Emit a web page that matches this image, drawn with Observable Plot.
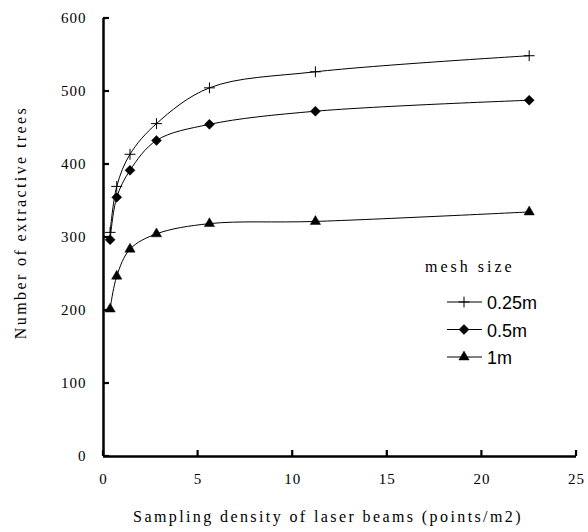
<!DOCTYPE html>
<html>
<head>
<meta charset="utf-8">
<script src="https://cdn.jsdelivr.net/npm/d3@7"></script>
<script src="https://cdn.jsdelivr.net/npm/@observablehq/plot@0.6"></script>
<style>
  html, body { margin: 0; padding: 0; background: #fff; }
  #wrap { position: relative; width: 588px; height: 532px; }
  #legend { position: absolute; left: 420px; top: 250px; }
  .serif, .serif text { font-family: "Liberation Serif", "Times New Roman", "DejaVu Serif", serif; }
  .sans { font-family: "Liberation Sans", Arial, sans-serif; }
</style>
</head>
<body>
<div id="wrap"></div>
<script>
// ---- data ----
const densities = [0.35, 0.7, 1.4, 2.8, 5.6, 11.2, 22.5];
const mesh025 = [307, 370, 414, 456, 505, 527, 549];
const mesh05  = [297, 355, 392, 433, 455, 473, 488];
const mesh1   = [202, 247, 284, 305, 319, 322, 335];
const seriesNames = ["0.25m", "0.5m", "1m"];
const xTicks = [0, 5, 10, 15, 20, 25];
const yTicks = [0, 100, 200, 300, 400, 500, 600];
const xTitle = "Sampling density of laser beams (points/m2)";
const yTitle = "Number of extractive trees";
const legendTitle = "mesh size";

const seriesValues = [mesh025, mesh05, mesh1];
const symbols = ["plus", "diamond2", "triangle"];
const symbolR = [3.6, 4.5, 3.8];
const rows = [];
seriesNames.forEach((s, i) => densities.forEach((d, j) => rows.push({series: s, x: d, y: seriesValues[i][j]})));

const W = 588, H = 532, mL = 103, mR = 12, mT = 18, mB = 76;
const tickLen = 6;

const marks = [];
seriesNames.forEach((s, i) => {
  const data = rows.filter(r => r.series === s);
  marks.push(Plot.line(data, {x: "x", y: "y", curve: "catmull-rom", stroke: "#000", strokeWidth: 1}));
  marks.push(Plot.dot(data, {x: "x", y: "y", symbol: () => symbols[i], r: symbolR[i],
    fill: symbols[i] === "plus" ? "none" : "#000", stroke: "#000", strokeWidth: symbols[i] === "plus" ? 1 : 0.5}));
});

const chart = Plot.plot({
  width: W,
  height: H,
  marginLeft: mL,
  marginRight: mR,
  marginTop: mT,
  marginBottom: mB,
  className: "serif",
  style: {background: "#fff", color: "#000"},
  x: {domain: [0, 25]},
  y: {domain: [0, 600]},
  marks: [
    Plot.axisX(xTicks, {tickSize: 0, tickPadding: 17, fontSize: 15, label: null, tickFormat: d => String(d)}),
    Plot.axisY(yTicks, {tickSize: 0, tickPadding: 17, fontSize: 15, label: null, tickFormat: d => String(d)}),
    Plot.ruleX([0], {stroke: "#000", strokeWidth: 2.5}),
    Plot.ruleY([0], {stroke: "#000", strokeWidth: 2.5}),
    ...marks,
    Plot.text([xTitle], {text: d => d, frameAnchor: "bottom", dx: -12, dy: 65, fontSize: 16, fill: "#000"}),
    Plot.text([yTitle], {text: d => d, frameAnchor: "left", textAnchor: "middle", rotate: -90, dx: -83, dy: -15, fontSize: 16, fill: "#000"})
  ]
});
d3.select(chart).selectAll("[aria-label='x-axis tick label'] text, [aria-label='y-axis tick label'] text").style("letter-spacing", "1px");
d3.select(chart).selectAll("[aria-label='text'] text").style("letter-spacing", "2.4px");

// inward tick marks, positioned through the chart's own scales
const sx = chart.scale("x"), sy = chart.scale("y");
const x0 = sx.apply(0), y0 = sy.apply(0);
const tg = d3.select(chart).append("g").attr("stroke", "#000").attr("stroke-width", 2.2);
xTicks.forEach(v => tg.append("line").attr("x1", sx.apply(v)).attr("x2", sx.apply(v)).attr("y1", y0).attr("y2", y0 - tickLen));
yTicks.forEach(v => tg.append("line").attr("x1", x0).attr("x2", x0 + tickLen).attr("y1", sy.apply(v)).attr("y2", sy.apply(v)));
document.getElementById("wrap").appendChild(chart);

// ---- legend ----
const lg = d3.select("#wrap").append("svg").attr("id", "legend").attr("width", 168).attr("height", 125);
lg.append("text").attr("class", "serif").attr("x", 5).attr("y", 16).attr("dominant-baseline", "central")
  .attr("font-size", 16).style("letter-spacing", "3px").attr("fill", "#000").text(legendTitle);
const d3sym = {plus: d3.symbolPlus, diamond2: d3.symbolDiamond2, triangle: d3.symbolTriangle};
seriesNames.forEach((s, i) => {
  const y = 52 + i * 27.5;
  const g = lg.append("g");
  g.append("line").attr("x1", 27).attr("x2", 62).attr("y1", y).attr("y2", y).attr("stroke", "#000").attr("stroke-width", 1);
  g.append("path").attr("transform", `translate(44,${y})`)
    .attr("d", d3.symbol(d3sym[symbols[i]], Math.PI * symbolR[i] * symbolR[i])())
    .attr("fill", symbols[i] === "plus" ? "none" : "#000").attr("stroke", "#000").attr("stroke-width", symbols[i] === "plus" ? 1 : 0.5);
  g.append("text").attr("class", "sans").attr("x", 67).attr("y", y + 1).attr("dominant-baseline", "central")
    .attr("font-size", 18).attr("fill", "#000").text(s);
});
</script>
</body>
</html>
